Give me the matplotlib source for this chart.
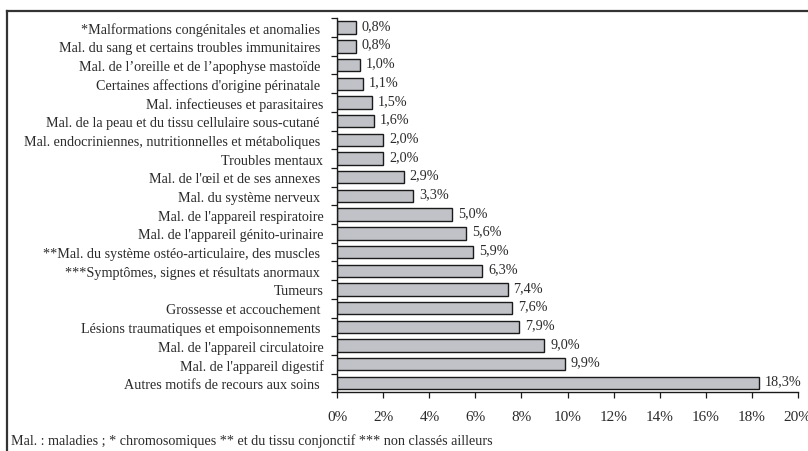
import matplotlib.pyplot as plt
from matplotlib.lines import Line2D

# Categories listed top to bottom as in the chart
categories = [
    "*Malformations congénitales et anomalies ",
    "Mal. du sang et certains troubles immunitaires ",
    "Mal. de l\u2019oreille et de l\u2019apophyse mastoïde ",
    "Certaines affections d'origine périnatale ",
    "Mal. infectieuses et parasitaires",
    "Mal. de la peau et du tissu cellulaire sous-cutané ",
    "Mal. endocriniennes, nutritionnelles et métaboliques ",
    "Troubles mentaux",
    "Mal. de l'œil et de ses annexes ",
    "Mal. du système nerveux ",
    "Mal. de l'appareil respiratoire",
    "Mal. de l'appareil génito-urinaire",
    "**Mal. du système ostéo-articulaire, des muscles ",
    "***Symptômes, signes et résultats anormaux ",
    "Tumeurs",
    "Grossesse et accouchement ",
    "Lésions traumatiques et empoisonnements ",
    "Mal. de l'appareil circulatoire",
    "Mal. de l'appareil digestif",
    "Autres motifs de recours aux soins ",
]
values = [0.8, 0.8, 1.0, 1.1, 1.5, 1.6, 2.0, 2.0, 2.9, 3.3,
          5.0, 5.6, 5.9, 6.3, 7.4, 7.6, 7.9, 9.0, 9.9, 18.3]
xticks = [0, 2, 4, 6, 8, 10, 12, 14, 16, 18, 20]
footnote = "Mal. : maladies ; * chromosomiques ** et du tissu conjonctif *** non classés ailleurs"

plt.rcParams['font.family'] = ['Liberation Serif', 'DejaVu Serif']
TEXT = '#2b2b2b'
FS = 10.2

fig = plt.figure(figsize=(8.08, 4.52), dpi=100)
ax = fig.add_axes([337.3 / 808, 1 - 393.3 / 452, (797.7 - 337.3) / 808, (393.3 - 19.3) / 452])

n = len(categories)
pos = list(range(n))
ax.barh(pos, values, height=0.66, color='#c0c2c8', edgecolor='#1a1a1a', linewidth=1.0)
for p, v in zip(pos, values):
    ax.text(v + 0.25, p - 0.12, f"{v:.1f}%".replace('.', ','), va='center', ha='left',
            fontsize=FS, color=TEXT)

ax.set_ylim(n - 0.5, -0.5)
ax.set_xlim(0, 20)

# y ticks between categories, labels at centres
ax.set_yticks([i - 0.5 for i in range(n + 1)])
ax.set_yticklabels([])
ax.set_yticks(pos, minor=True)
ax.set_yticklabels(categories, minor=True, fontsize=FS, color=TEXT)
ax.tick_params(axis='y', which='major', length=4, width=0.9, color='#1a1a1a', direction='out')
ax.tick_params(axis='y', which='minor', length=0, pad=10)

ax.set_xticks(xticks)
ax.set_xticklabels([f"{t}%" for t in xticks], fontsize=FS + 0.8, color=TEXT)
ax.tick_params(axis='x', length=4, width=0.9, color='#1a1a1a', direction='out', pad=9)

for s in ['top', 'right']:
    ax.spines[s].set_visible(False)
for s in ['left', 'bottom']:
    ax.spines[s].set_color('#1a1a1a')
    ax.spines[s].set_linewidth(1.0)

# outer frame (only left and top edges visible in the crop)
x0, y0 = 6.5 / 808, 1 - 12 / 452
fig.add_artist(Line2D([x0, x0], [y0, 0], transform=fig.transFigure, color='#333333', lw=1.6))
fig.add_artist(Line2D([x0, 1], [y0, y0], transform=fig.transFigure, color='#333333', lw=1.6))

fig.text(11 / 808, 1 - 441 / 452, footnote, fontsize=FS, color=TEXT, va='center', ha='left')

fig.savefig('out.png', dpi=100)
